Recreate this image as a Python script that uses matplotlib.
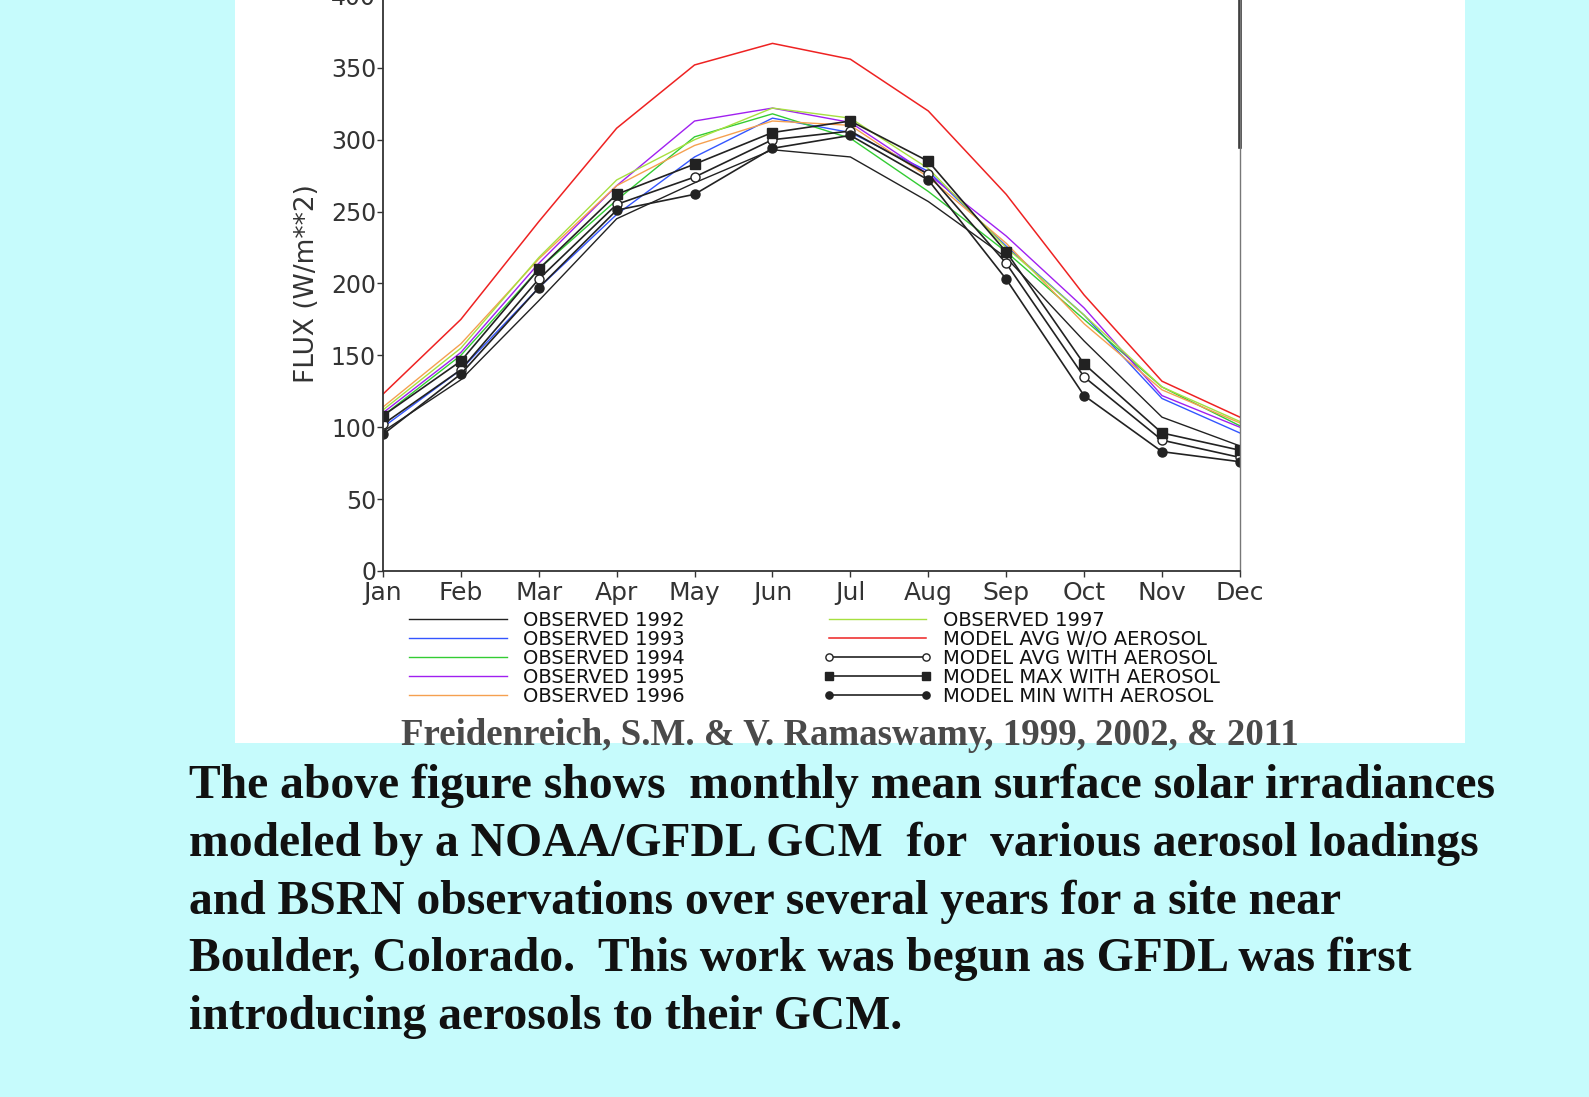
import matplotlib.pyplot as plt
from matplotlib.patches import Rectangle

# Monthly mean surface solar flux (W/m**2), Boulder
months = ['Jan', 'Feb', 'Mar', 'Apr', 'May', 'Jun', 'Jul', 'Aug', 'Sep', 'Oct', 'Nov', 'Dec']
obs_1992 = [97, 133, 188, 245, 270, 293, 288, 257, 218, 160, 107, 87]
obs_1993 = [100, 140, 197, 248, 288, 315, 305, 278, 226, 178, 120, 96]
obs_1994 = [108, 150, 210, 258, 302, 318, 301, 264, 222, 175, 128, 101]
obs_1995 = [110, 152, 214, 268, 313, 322, 312, 276, 233, 183, 122, 100]
obs_1996 = [114, 158, 217, 268, 296, 313, 310, 274, 228, 172, 126, 103]
obs_1997 = [112, 155, 218, 272, 300, 322, 315, 280, 225, 178, 128, 104]
model_noaer = [123, 175, 243, 308, 352, 367, 356, 320, 262, 192, 132, 107]
model_avg = [102, 140, 203, 255, 274, 300, 306, 276, 214, 135, 91, 79]
model_max = [108, 146, 210, 262, 283, 305, 313, 285, 222, 144, 96, 84]
model_min = [95, 137, 197, 251, 262, 294, 303, 272, 203, 122, 83, 76]

citation = 'Freidenreich, S.M. & V. Ramaswamy, 1999, 2002, & 2011'
caption = ['The above figure shows  monthly mean surface solar irradiances',
           'modeled by a NOAA/GFDL GCM  for  various aerosol loadings',
           'and BSRN observations over several years for a site near',
           'Boulder, Colorado.  This work was begun as GFDL was first',
           'introducing aerosols to their GCM.']

fig = plt.figure(figsize=(15.89, 10.97), dpi=100)
fig.patch.set_facecolor('#c6fbfc')
fig.patches.append(Rectangle((0.1479, 0.3227), 0.7741, 0.6773, transform=fig.transFigure,
                             facecolor='white', edgecolor='none', zorder=-5))

ax = fig.add_axes([0.2410, 0.4795, 0.5393, 0.5242])
ax.patch.set_alpha(0)
x = range(len(months))

ax.plot(x, obs_1992, color='#222222', lw=1.0, label='OBSERVED 1992')
ax.plot(x, obs_1993, color='#3355ff', lw=1.0, label='OBSERVED 1993')
ax.plot(x, obs_1994, color='#33cc33', lw=1.0, label='OBSERVED 1994')
ax.plot(x, obs_1995, color='#a020f0', lw=1.0, label='OBSERVED 1995')
ax.plot(x, obs_1996, color='#f5a050', lw=1.0, label='OBSERVED 1996')
ax.plot(x, obs_1997, color='#a6e040', lw=1.0, label='OBSERVED 1997')
ax.plot(x, model_noaer, color='#ee2222', lw=1.1, label='MODEL AVG W/O AEROSOL')
ax.plot(x, model_avg, color='#222222', lw=1.2, marker='o', ms=6.5, mfc='white', mec='#222222',
        label='MODEL AVG WITH AEROSOL')
ax.plot(x, model_max, color='#222222', lw=1.2, marker='s', ms=7, label='MODEL MAX WITH AEROSOL')
ax.plot(x, model_min, color='#222222', lw=1.2, marker='o', ms=6.5, label='MODEL MIN WITH AEROSOL')

ax.set_xlim(0, 11)
ax.set_ylim(0, 400)
ax.set_yticks(range(0, 401, 50))
ax.set_xticks(list(x))
ax.set_xticklabels(months)
ax.tick_params(axis='both', direction='out', length=4, width=1, color='#333333',
               labelcolor='#333333')
ax.tick_params(axis='y', labelsize=17, pad=1)
ax.tick_params(axis='x', labelsize=18, pad=3)
ax.set_ylabel('FLUX (W/m**2)', fontsize=19, color='#333333', labelpad=8)
for side in ['left', 'bottom']:
    ax.spines[side].set_color('#333333')
    ax.spines[side].set_linewidth(1.3)
ax.spines['top'].set_visible(False)
ax.spines['right'].set_color('#777777')
ax.spines['right'].set_linewidth(1.0)
ax.plot([1, 1], [0.737, 1.0], transform=ax.transAxes, color='#333333', lw=2.6, clip_on=False)

leg = ax.legend(loc='upper left', bbox_to_anchor=(0.254, 0.443), bbox_transform=fig.transFigure,
                ncol=2, frameon=False, fontsize=14, numpoints=2, handlelength=5.6,
                handletextpad=0.55, columnspacing=7.1, labelspacing=0.0, borderpad=0,
                borderaxespad=0, markerscale=0.8)
for t in leg.get_texts():
    t.set_color('#111111')

fig.text(850, 1097 - 745, citation, transform=None, ha='center', va='baseline',
         fontsize=26.6, fontweight='bold', family='Liberation Serif', color='#4a4a4a')
for i, line in enumerate(caption):
    fig.text(189, 1097 - (798 + 57.8 * i), line, transform=None, ha='left', va='baseline',
             fontsize=34.3, fontweight='bold', family='Liberation Serif', color='#111111')

fig.savefig('out.png', dpi=100, facecolor=fig.get_facecolor())
